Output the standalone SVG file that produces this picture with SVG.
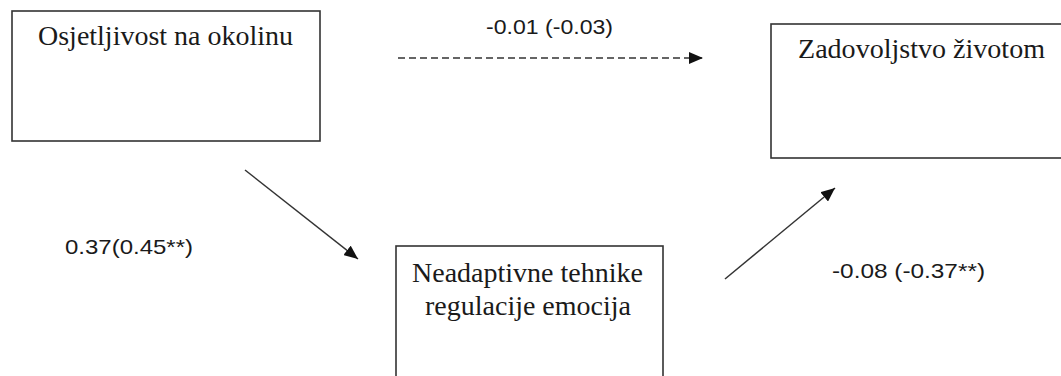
<svg xmlns="http://www.w3.org/2000/svg" width="1061" height="376" viewBox="0 0 1061 376">
<style>
.box{fill:#fff;stroke:#333;stroke-width:1.6}
.t{font-family:"Liberation Serif","Times New Roman",serif;font-size:27px;fill:#1a1a1a}
.l{font-family:"Liberation Sans",Arial,sans-serif;font-size:21px;fill:#1a1a1a}
.c{stroke:#333;stroke-width:1.5;fill:none}
.d{stroke-dasharray:7 4}
</style>
<defs>
<marker id="ah" viewBox="0 0 14 12" refX="14" refY="6" markerWidth="14" markerHeight="12" markerUnits="userSpaceOnUse" orient="auto">
<path d="M0,0 L14,6 L0,12 Z" fill="#111"/>
</marker>
</defs>
<rect width="1061" height="376" fill="#fff"/>
<g id="node-osjetljivost">
<rect class="box" x="12" y="11" width="308" height="130"/>
<text class="t" x="38" y="45" textLength="255" lengthAdjust="spacingAndGlyphs">Osjetljivost na okolinu</text>
</g>
<g id="node-zadovoljstvo">
<rect class="box" x="771" y="24" width="300" height="134"/>
<text class="t" x="798" y="58" textLength="247" lengthAdjust="spacingAndGlyphs">Zadovoljstvo životom</text>
</g>
<g id="node-neadaptivne">
<rect class="box" x="396" y="246" width="267" height="140"/>
<text class="t" x="412" y="282" textLength="231" lengthAdjust="spacingAndGlyphs">Neadaptivne tehnike</text>
<text class="t" x="425" y="315" textLength="206" lengthAdjust="spacingAndGlyphs">regulacije emocija</text>
</g>
<g id="connectors">
<line class="c d" x1="398" y1="58" x2="703" y2="58" marker-end="url(#ah)"/>
<line class="c" x1="245" y1="170" x2="358" y2="259" marker-end="url(#ah)"/>
<line class="c" x1="725" y1="279" x2="835" y2="188" marker-end="url(#ah)"/>
<text class="l" x="486" y="34" textLength="127" lengthAdjust="spacingAndGlyphs">-0.01 (-0.03)</text>
<text class="l" x="65" y="254" textLength="128" lengthAdjust="spacingAndGlyphs">0.37(0.45**)</text>
<text class="l" x="832" y="278" textLength="153" lengthAdjust="spacingAndGlyphs">-0.08 (-0.37**)</text>
</g>
</svg>
